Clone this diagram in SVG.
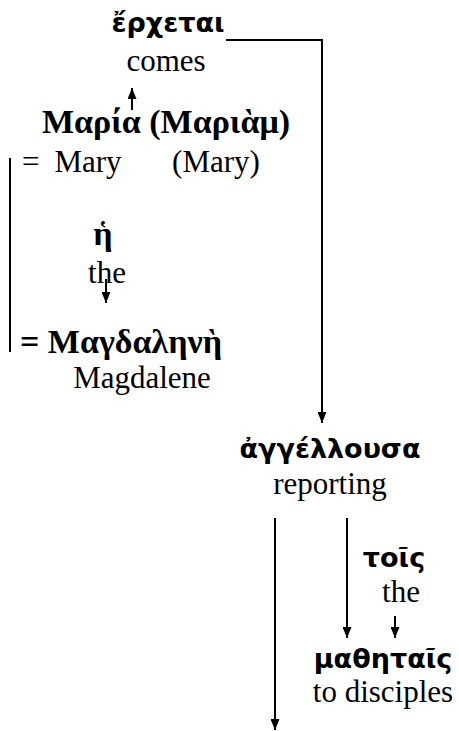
<svg xmlns="http://www.w3.org/2000/svg" width="459" height="731" viewBox="0 0 459 731">
<style>
.gk{font-family:"DejaVu Sans","Noto Sans",sans-serif;font-weight:bold;font-size:27px;fill:#000}
.gs{font-family:"Liberation Serif","DejaVu Serif",serif;font-weight:bold;font-size:34px;fill:#000}
.en{font-family:"Liberation Serif","Times New Roman",serif;font-size:31px;fill:#000}
.c{text-anchor:middle}
.ln{stroke:#000;stroke-width:2;fill:none}
</style>
<defs>
<marker id="ad" markerUnits="userSpaceOnUse" markerWidth="11" markerHeight="9" viewBox="0 0 11 9" refX="11" refY="4.5" orient="auto">
<path d="M0,0 L11,4.5 L0,9 Z" fill="#000"/>
</marker>
</defs>
<g id="connectors">
<polyline class="ln" points="226,40 322,40 322,423" marker-end="url(#ad)"/>
<line class="ln" x1="132" y1="110" x2="132" y2="88" marker-end="url(#ad)"/>
<line class="ln" x1="10" y1="158" x2="10" y2="352"/>
<line class="ln" x1="106" y1="279" x2="106" y2="303" marker-end="url(#ad)"/>
<line class="ln" x1="275" y1="518" x2="275" y2="730" marker-end="url(#ad)"/>
<line class="ln" x1="347" y1="518" x2="347" y2="638" marker-end="url(#ad)"/>
<line class="ln" x1="395" y1="616" x2="395" y2="638" marker-end="url(#ad)"/>
</g>
<g id="n-erchetai">
<text class="gk c" x="168" y="32">ἔρχεται</text>
<text class="en c" x="166" y="71">comes</text>
</g>
<g id="n-maria">
<text class="gs c" x="166" y="133">Μαρία (Μαριὰμ)</text>
<text class="en" x="22" y="172">=</text>
<text class="en c" x="88" y="172">Mary</text>
<text class="en c" x="216" y="172">(Mary)</text>
</g>
<g id="n-he">
<text class="gs c" x="103" y="245">ἡ</text>
<text class="en c" x="107" y="283">the</text>
</g>
<g id="n-magdalene">
<text class="gs" x="20" y="353">= Μαγδαληνὴ</text>
<text class="en c" x="142" y="388">Magdalene</text>
</g>
<g id="n-angellousa">
<text class="gk c" x="330" y="458">ἀγγέλλουσα</text>
<text class="en c" x="330" y="494">reporting</text>
</g>
<g id="n-tois">
<text class="gk c" x="394" y="567">τοῖς</text>
<text class="en c" x="401" y="602">the</text>
</g>
<g id="n-mathetais">
<text class="gk c" x="383" y="668">μαθηταῖς</text>
<text class="en c" x="383" y="702">to disciples</text>
</g>
</svg>
